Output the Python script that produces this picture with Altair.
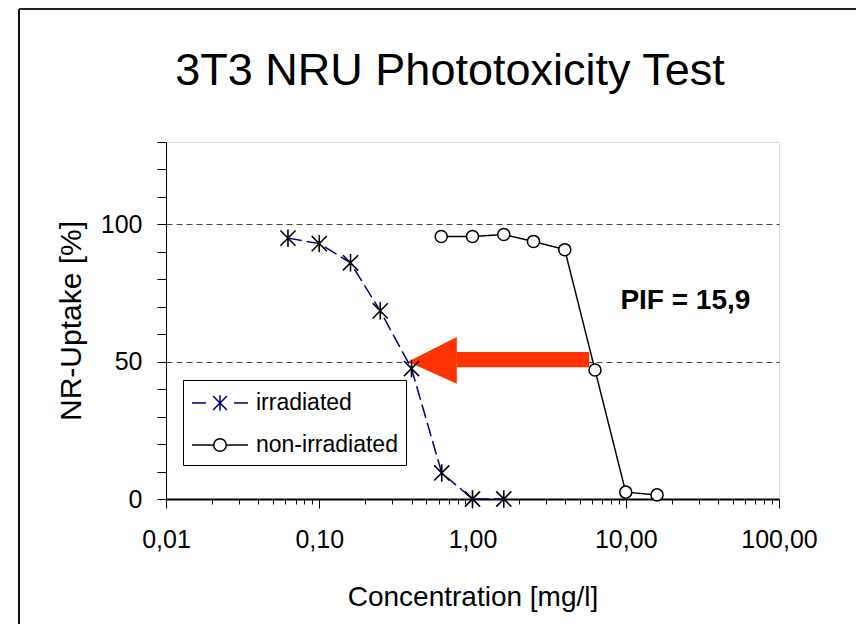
import altair as alt
import pandas as pd

# ---------------- data ----------------
chart_title = ["3T3 NRU Phototoxicity Test"]
series_names = ["irradiated", "non-irradiated"]

irr_conc = [0.0625, 0.1, 0.16, 0.25, 0.4, 0.63, 1.0, 1.6]
irr_uptake = [95.0, 93.0, 86.0, 68.5, 47.5, 9.5, 0.0, 0.0]

non_conc = [0.625, 1.0, 1.6, 2.5, 4.0, 6.3, 10.0, 16.0]
non_uptake = [95.6, 95.6, 96.3, 93.8, 90.8, 47.0, 2.5, 1.5]

# arrow from the non-irradiated IC50 to the irradiated IC50
arrow_head_conc = [0.379, 0.79]
arrow_head_top = [50.0, 59.0]
arrow_head_bottom = [50.0, 42.0]
arrow_shaft_conc = [0.79, 5.77]
arrow_shaft_top = [53.5, 53.5]
arrow_shaft_bottom = [48.0, 48.0]

pif_text = ["PIF = 15,9"]
pif_conc = [24.5]
pif_uptake = [72.0]

x_major = [0.01, 0.1, 1, 10, 100]
x_major_labels = ["0,01", "0,10", "1,00", "10,00", "100,00"]
y_ticks = list(range(0, 131, 10))
y_labeled = [0, 50, 100]
y_grid = [50, 100]

# ---------------- tables ----------------
irr_df = pd.DataFrame({"conc": irr_conc, "uptake": irr_uptake})
non_df = pd.DataFrame({"conc": non_conc, "uptake": non_uptake})
head_df = pd.DataFrame({"conc": arrow_head_conc, "uptake": arrow_head_top, "low": arrow_head_bottom})
shaft_df = pd.DataFrame({"conc": arrow_shaft_conc, "uptake": arrow_shaft_top, "low": arrow_shaft_bottom})
pif_df = pd.DataFrame({"conc": pif_conc, "uptake": pif_uptake, "label": pif_text})
legend_df = pd.DataFrame({"conc": [irr_conc[0], non_conc[0]],
                          "uptake": [irr_uptake[0], non_uptake[0]],
                          "series": series_names})
title_df = pd.DataFrame({"title": chart_title})

FONT = "Liberation Sans"

# ---------------- axes ----------------
x_ticks = sorted({round(m * d, 6) for d in [0.01, 0.1, 1, 10] for m in range(1, 10)} | {100})
major_test = "abs(log(datum.value)/LN10 - round(log(datum.value)/LN10)) < 1e-6"
lbl_expr = "''"
for v, lab in reversed(list(zip(x_major, x_major_labels))):
    lbl_expr = f"abs(datum.value/{v} - 1) < 1e-6 ? '{lab}' : ({lbl_expr})"

x_axis = alt.Axis(
    values=x_ticks, labelExpr=lbl_expr, grid=False,
    tickSize={"condition": {"test": major_test, "value": 9}, "value": 5},
    tickColor="black", tickWidth=1, domainColor="black", domainWidth=2,
    labelFont=FONT, labelFontSize=25, labelColor="black", labelPadding=19,
    labelFlush=False, labelOverlap=False,
    titleFont=FONT, titleFontSize=28, titleFontWeight="normal", titleColor="black",
    titlePadding=31,
)
y_test = " || ".join(f"datum.value == {v}" for v in y_grid)
y_lab_test = " || ".join(f"datum.value == {v}" for v in y_labeled)
y_axis = alt.Axis(
    values=y_ticks, labelExpr=f"({y_lab_test}) ? datum.label : ''",
    grid=True, gridColor="#444444", gridDash=[6, 4], gridWidth=1,
    gridOpacity={"condition": {"test": y_test, "value": 1}, "value": 0},
    tickSize=9, tickColor="black", domainColor="black", domainWidth=1,
    labelFont=FONT, labelFontSize=25, labelColor="black", labelPadding=15,
    labelOverlap=False,
    titleFont=FONT, titleFontSize=30, titleFontWeight="normal", titleColor="black",
    titlePadding=14,
)
x_scale = alt.Scale(type="log", domain=[0.01, 100], nice=False)
y_scale = alt.Scale(domain=[0, 130], nice=False)


def X():
    return alt.X("conc:Q", scale=x_scale, axis=x_axis, title="Concentration [mg/l]")


def Y():
    return alt.Y("uptake:Q", scale=y_scale, axis=y_axis, title="NR-Uptake [%]")


# ---------------- layers ----------------
shaft = alt.Chart(shaft_df).mark_area(color="#FF3300", opacity=1).encode(x=X(), y=Y(), y2="low:Q")
head = alt.Chart(head_df).mark_area(color="#FF3300", opacity=1).encode(x=X(), y=Y(), y2="low:Q")

irr_line = alt.Chart(irr_df).mark_line(color="#000080", strokeWidth=1.5, strokeDash=[14, 5]).encode(x=X(), y=Y())
non_line = alt.Chart(non_df).mark_line(color="black", strokeWidth=1.5).encode(x=X(), y=Y())

ASTER = "M-1,-1L1,1M-1,1L1,-1M0,-1.15L0,1.15"
irr_pts = alt.Chart(irr_df).mark_point(shape=ASTER, size=230, color="black", strokeWidth=1.6,
                                       filled=False, opacity=1).encode(x=X(), y=Y())
non_pts = alt.Chart(non_df).mark_point(shape="circle", size=145, fill="white", stroke="black",
                                       strokeWidth=1.5, filled=True, opacity=1).encode(x=X(), y=Y())

pif = alt.Chart(pif_df).mark_text(font=FONT, fontSize=28, fontWeight="bold", color="black",
                                  align="center", baseline="middle").encode(x=X(), y=Y(), text="label:N")

LEG_IRR = "M-1,0L0,0M0.5,-0.5L1.5,0.5M0.5,0.5L1.5,-0.5M1,-0.55L1,0.55M2,0L3,0"
LEG_NON = "M-1,0L0.55,0M1.45,0A0.45,0.45 0 1,1 0.55,0A0.45,0.45 0 1,1 1.45,0M1.45,0L3,0"
leg = alt.Legend(title=None, orient="none", legendX=17, legendY=238, padding=8,
                 strokeColor="black", fillColor="white",
                 labelFont=FONT, labelFontSize=23, labelColor="black", labelOffset=35,
                 rowPadding=15, symbolSize=784, symbolStrokeWidth=1.5, symbolOpacity=1,
                 symbolFillColor="transparent")
legend_layer = alt.Chart(legend_df).mark_point(opacity=0, filled=False).encode(
    x=X(), y=Y(),
    shape=alt.Shape("series:N", scale=alt.Scale(domain=series_names, range=[LEG_IRR, LEG_NON]), legend=leg),
    color=alt.Color("series:N", scale=alt.Scale(domain=series_names, range=["#000080", "black"]), legend=leg),
)

# chart title, drawn as a text mark above the plot (pixel offsets from plot origin)
title_mark = alt.Chart(title_df).mark_text(
    font=FONT, fontSize=45, color="black", align="center", baseline="alphabetic"
).encode(x=alt.value(284), y=alt.value(-57), text="title:N")

# outer frame (decoration, pixel offsets relative to plot origin)
frame_top = alt.Chart(title_df).mark_rule(color="#222222", strokeWidth=2).encode(
    x=alt.value(-147), x2=alt.value(690), y=alt.value(-133))
frame_left = alt.Chart(title_df).mark_rule(color="#111111", strokeWidth=2).encode(
    x=alt.value(-147), y=alt.value(-133), y2=alt.value(500))

chart = alt.layer(
    shaft, head, irr_line, non_line, irr_pts, non_pts, pif, legend_layer,
    title_mark, frame_top, frame_left
).properties(
    width=613, height=357,
    autosize=alt.AutoSizeParams(type="none"),
    padding={"left": 158, "top": 134, "right": 78, "bottom": 125},
).configure_view(stroke="black", strokeWidth=1).configure(background="white")

chart.save("out.html", embed_options={"renderer": "svg", "actions": False})
